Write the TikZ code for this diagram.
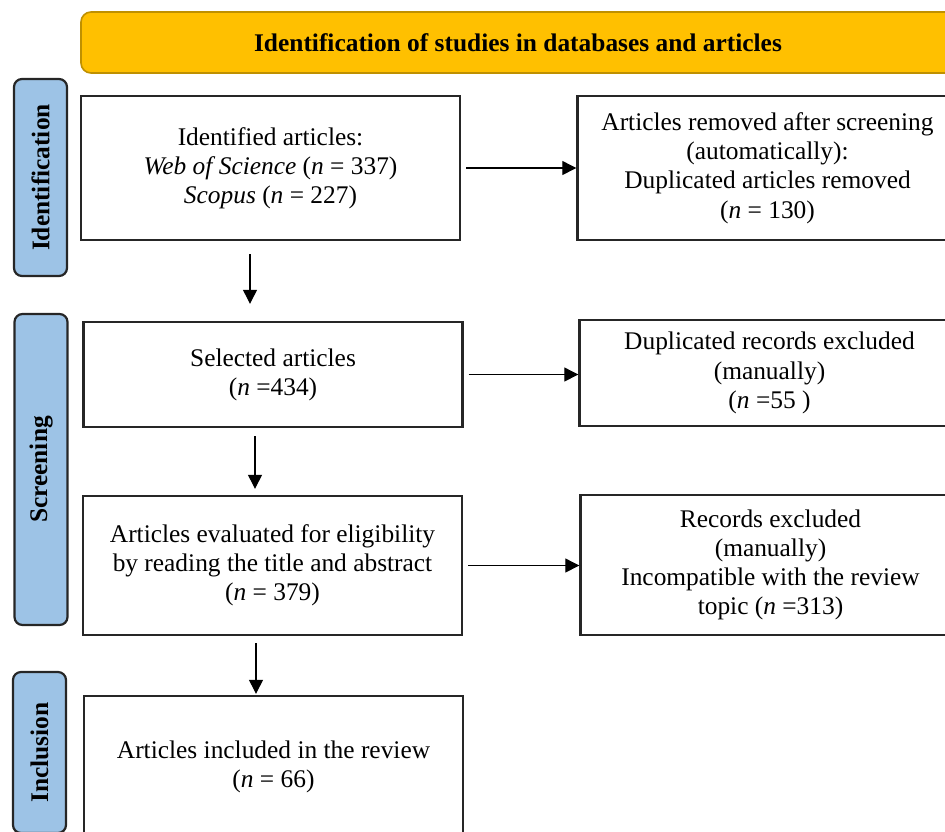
\documentclass[tikz,border=0pt]{standalone}
\usepackage{fontspec}
\setmainfont{Liberation Serif}
\usetikzlibrary{arrows.meta}
\definecolor{stageBlue}{HTML}{9DC3E6}
\definecolor{headGold}{HTML}{FFC000}
\definecolor{headEdge}{HTML}{BF9000}

\begin{document}
\begin{tikzpicture}
    % 样式: 方框结点, 阶段标签, 箭头
    [x=0.5pt,y=-0.5pt,
    BoxNode/.style={rectangle,draw=black!85,line width=1.2pt,fill=white,align=center,minimum width=189.5pt,font=\fontsize{12.7}{14.6}\selectfont},
    StageNode/.style={rectangle,rounded corners=4pt,draw=black!85,line width=1.1pt,fill=stageBlue,minimum height=26.5pt,rotate=90,font=\fontsize{12.7}{14.6}\selectfont\bfseries},
    Arr/.style={-{Triangle[length=7pt,width=7pt]},line width=0.6pt}]

    % 画布大小与裁剪
    \useasboundingbox (0,0) rectangle (945,831);
    \clip (0,0) rectangle (945,831);

    % 添加标题栏
    \node[rectangle,rounded corners=5pt,draw=headEdge,line width=0.8pt,fill=headGold,minimum width=437pt,minimum height=30.5pt,font=\fontsize{12.7}{14.6}\selectfont\bfseries] (head) at (518,42.5) {Identification of studies in databases and articles};

    % 添加左侧阶段标签
    \node[StageNode,minimum width=98.5pt] (s_1) at (40.5,177.5) {Identification};
    \node[StageNode,minimum width=155.5pt] (s_2) at (41,469.5) {Screening};
    \node[StageNode,minimum width=80.5pt] (s_3) at (39.5,752.5) {Inclusion};

    % 添加左列方框
    \node[BoxNode,minimum height=72pt] (b_1) at (270.5,168) {Identified articles:\\\textit{Web of Science} (\textit{n} = 337)\\\textit{Scopus} (\textit{n} = 227)};
    \node[BoxNode,minimum height=52.5pt] (b_2) at (273,374.5) {Selected articles\\(\textit{n} =434)};
    \node[BoxNode,minimum height=69.5pt] (b_3) at (272.5,565.5) {Articles evaluated for eligibility\\by reading the title and abstract\\(\textit{n} = 379)};
    \node[BoxNode,minimum height=71pt] (b_4) at (273.5,767) {Articles included in the review\\(\textit{n} = 66)};

    % 添加右列方框
    \node[BoxNode,minimum width=190pt,minimum height=72pt] (r_1) at (767.5,168) {Articles removed after screening\\(automatically):\\Duplicated articles removed\\(\textit{n} = 130)};
    \node[BoxNode,minimum width=190pt,minimum height=53pt] (r_2) at (769.5,373) {Duplicated records excluded\\(manually)\\(\textit{n} =55\ )};
    \node[BoxNode,minimum width=190pt,minimum height=70pt] (r_3) at (770.5,565) {Records excluded\\(manually)\\Incompatible with the review\\topic (\textit{n} =313)};

    % 向右的箭头
    \foreach \x in {1,2,3}
    \draw[Arr,shorten <=2.5pt](b_\x.east)--(b_\x.east -| r_\x.west);

    % 向下的箭头
    \draw[Arr,shorten <=6.5pt,shorten >=8.5pt]([xshift=-10.25pt]b_1.south)--([xshift=-11.5pt]b_2.north);
    \draw[Arr,shorten <=4pt,shorten >=3pt]([xshift=-9pt]b_2.south)--([xshift=-8.75pt]b_3.north);
    \draw[Arr,shorten <=3.5pt,shorten >=0.5pt]([xshift=-8.25pt]b_3.south)--([xshift=-8.75pt]b_4.north);

\end{tikzpicture}
\end{document}
